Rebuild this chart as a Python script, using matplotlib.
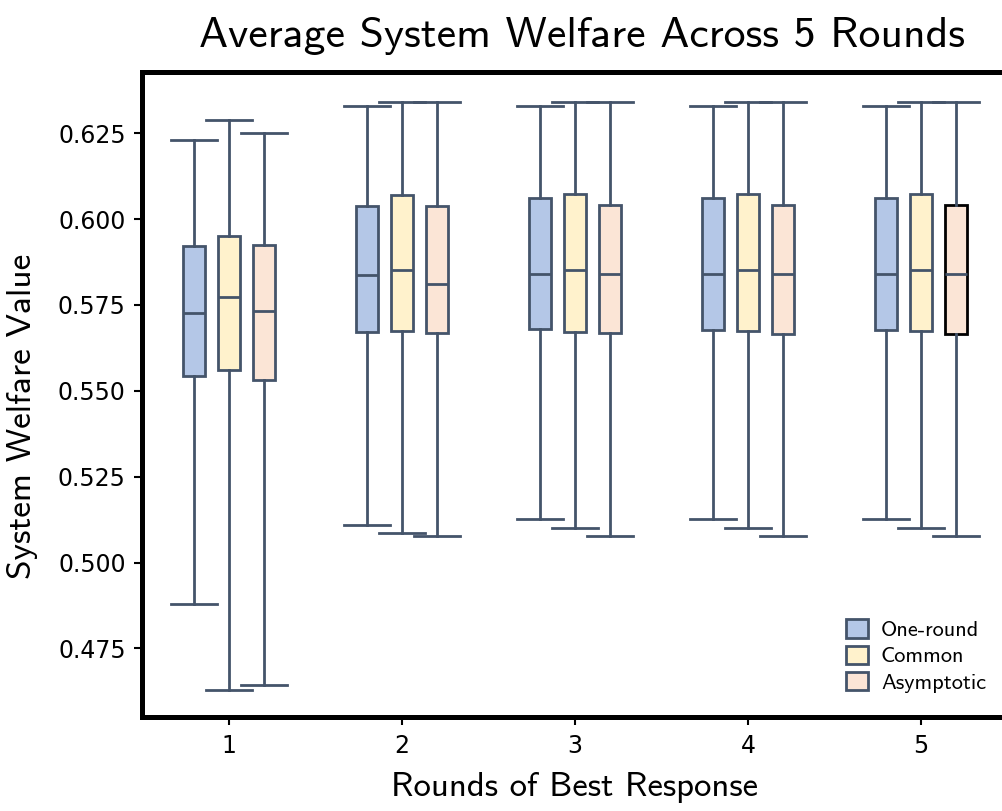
import matplotlib
matplotlib.use("Agg")
import matplotlib.pyplot as plt
from matplotlib.patches import Patch

rounds = [1, 2, 3, 4, 5]
methods = ["One-round", "Common", "Asymptotic"]
fill_colors = ["#b4c7e7", "#fff2cc", "#fbe5d6"]
edge_color = "#44546a"

# per method: lists over rounds 1..5
whislo = {
    "One-round":  [0.4880, 0.5108, 0.5128, 0.5128, 0.5128],
    "Common":     [0.4628, 0.5085, 0.5102, 0.5102, 0.5102],
    "Asymptotic": [0.4643, 0.5078, 0.5078, 0.5078, 0.5078],
}
q1 = {
    "One-round":  [0.5542, 0.5671, 0.5681, 0.5676, 0.5676],
    "Common":     [0.5560, 0.5673, 0.5671, 0.5673, 0.5673],
    "Asymptotic": [0.5533, 0.5668, 0.5668, 0.5666, 0.5666],
}
med = {
    "One-round":  [0.5727, 0.5836, 0.5839, 0.5839, 0.5839],
    "Common":     [0.5772, 0.5852, 0.5852, 0.5852, 0.5852],
    "Asymptotic": [0.5732, 0.5810, 0.5839, 0.5839, 0.5839],
}
q3 = {
    "One-round":  [0.5923, 0.6039, 0.6060, 0.6060, 0.6060],
    "Common":     [0.5950, 0.6070, 0.6073, 0.6073, 0.6073],
    "Asymptotic": [0.5924, 0.6039, 0.6040, 0.6040, 0.6040],
}
whishi = {
    "One-round":  [0.6230, 0.6330, 0.6330, 0.6330, 0.6330],
    "Common":     [0.6289, 0.6340, 0.6340, 0.6340, 0.6340],
    "Asymptotic": [0.6251, 0.6340, 0.6340, 0.6340, 0.6340],
}
yticks = [0.475, 0.500, 0.525, 0.550, 0.575, 0.600, 0.625]

title_font = ["cmss10", "DejaVu Sans"]

fig = plt.figure(figsize=(10.02, 8.11), dpi=100)
ax = fig.add_axes([0.1422, 0.1153, 0.8633, 0.7958])

offsets = [-0.2, 0.0, 0.2]
for mi, m in enumerate(methods):
    stats = []
    for ri, r in enumerate(rounds):
        stats.append(dict(whislo=whislo[m][ri], q1=q1[m][ri], med=med[m][ri],
                          q3=q3[m][ri], whishi=whishi[m][ri], fliers=[]))
    pos = [r + offsets[mi] for r in rounds]
    bp = ax.bxp(stats, positions=pos, widths=0.127, capwidths=0.265,
                patch_artist=True, showfliers=False, manage_ticks=False,
                boxprops=dict(facecolor=fill_colors[mi], edgecolor=edge_color, linewidth=2.0),
                medianprops=dict(color=edge_color, linewidth=2.0),
                whiskerprops=dict(color=edge_color, linewidth=2.0),
                capprops=dict(color=edge_color, linewidth=2.0))
    if m == "Asymptotic":
        bp["boxes"][-1].set_edgecolor("black")

ax.set_xlim(0.5, 5.5)
ax.set_ylim(0.4549, 0.6428)
ax.set_xticks(rounds)
ax.set_xticklabels([str(r) for r in rounds])
ax.set_yticks(yticks)
ax.set_yticklabels([f"{v:.3f}" for v in yticks])
ax.tick_params(axis="both", labelsize=17, length=6, width=1.5, direction="out", pad=6)

for s in ax.spines.values():
    s.set_linewidth(3.6)
    s.set_color("black")

ax.set_title("Average System Welfare Across 5 Rounds", fontsize=31.5,
             family=title_font, pad=18, x=0.508)
ax.set_xlabel("Rounds of Best Response", fontsize=25, family=title_font, labelpad=10)
ax.set_ylabel("System Welfare Value", fontsize=25.5, family=title_font)
ax.yaxis.set_label_coords(-0.121, 0.466)

handles = [Patch(facecolor=c, edgecolor=edge_color, linewidth=2.0, label=m)
           for c, m in zip(fill_colors, methods)]
fig.legend(handles=handles, loc="lower right", bbox_to_anchor=(1.004, 0.121),
           frameon=False, prop={"family": title_font, "size": 16},
           handlelength=0.95, handleheight=0.9, handletextpad=0.6, labelspacing=0.25)

fig.savefig("out.png", dpi=100)
